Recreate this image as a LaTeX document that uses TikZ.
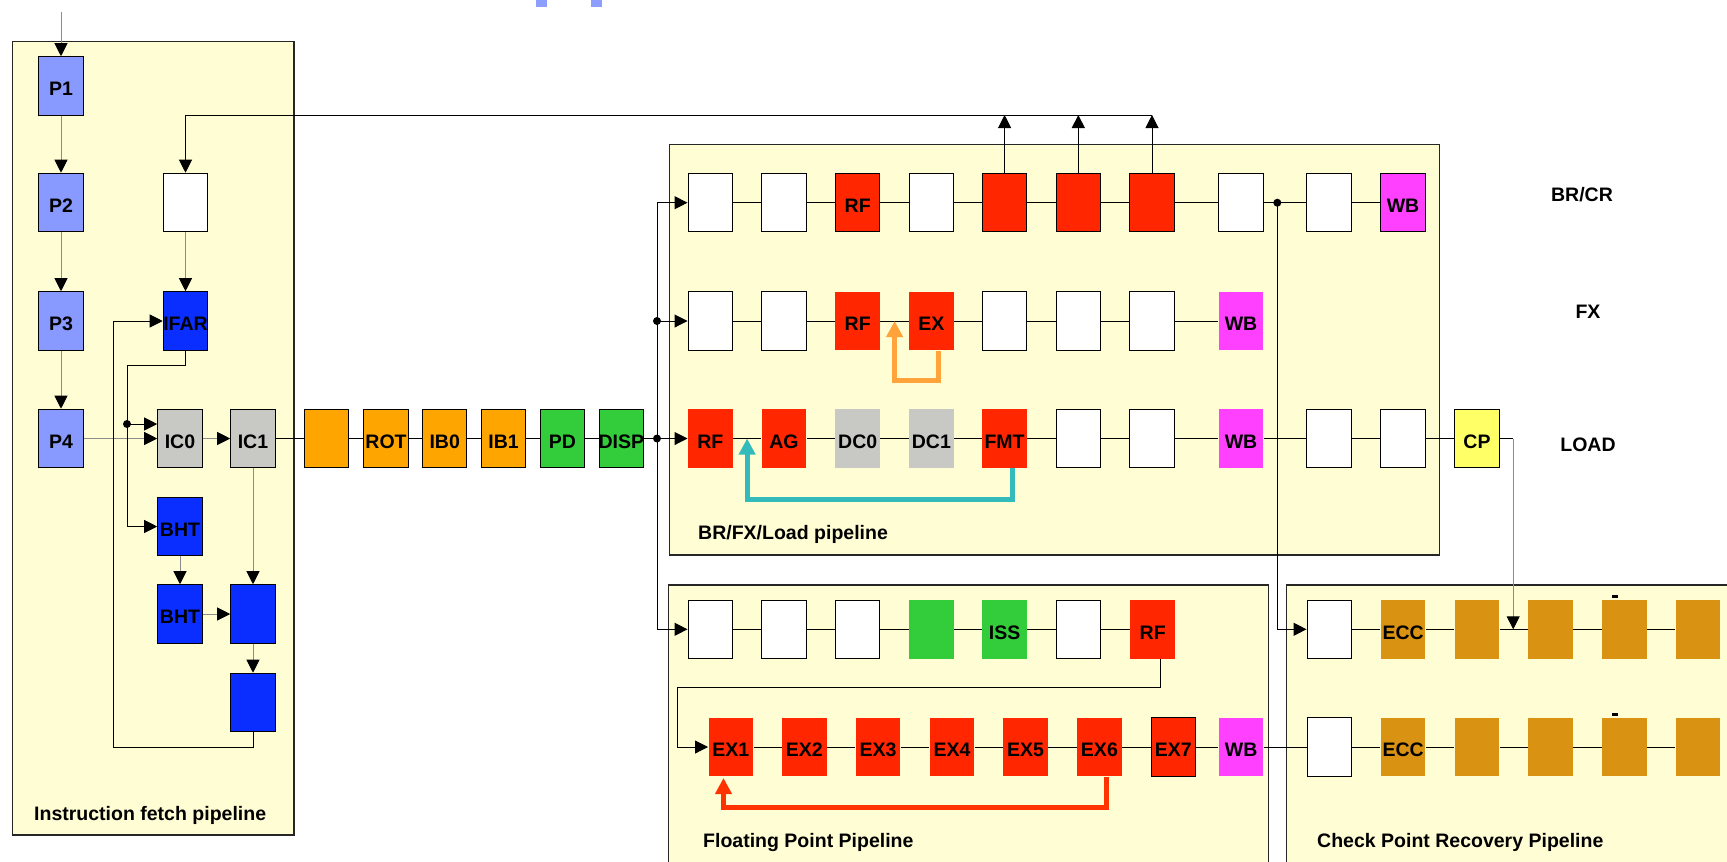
\documentclass[tikz,border=0pt]{standalone}
\usepackage{fontspec}
\setmainfont{Liberation Sans}
\usetikzlibrary{arrows.meta, calc}
\definecolor{panelCream}{HTML}{FFFDD3}
\definecolor{fetchBlue}{HTML}{8899FF}
\definecolor{deepBlue}{HTML}{0A2EFF}
\definecolor{cacheGrey}{HTML}{C8C9C5}
\definecolor{bufOrange}{HTML}{FFA500}
\definecolor{issGreen}{HTML}{33CC3A}
\definecolor{exRed}{HTML}{FF2600}
\definecolor{wbPink}{HTML}{FF40FF}
\definecolor{cpYellow}{HTML}{FFFF66}
\definecolor{eccGold}{HTML}{D99212}
\definecolor{fwdOrange}{HTML}{FFA33A}
\definecolor{fwdTeal}{HTML}{33BBBB}
\definecolor{fwdRed}{HTML}{FF3300}
\definecolor{titleBlue}{HTML}{8C9EFF}
\tikzset{
  stagebox/.style  = {line width=0.6pt, minimum width=8.9mm, minimum height=11.7mm,
                      inner sep=0pt},
  panel/.style     = {draw=black!85, line width=0.7pt, fill=panelCream},
  wire/.style      = {black, line width=0.55pt},
  arrowwire/.style = {wire, -{Triangle[length=2.6mm, width=2.6mm, color=black]}},
  softwire/.style  = {arrowwire, black!45},
  junction/.style  = {circle, fill=black, inner sep=0pt, minimum size=1.6mm},
  bypass/.style    = {line width=1mm, -{Triangle[length=3.2mm, width=3.2mm]}},
  caption/.style   = {anchor=base west},
  rowname/.style   = {anchor=center},
  every label/.style = {yshift=-0.6mm},
}

\begin{document}
\begin{tikzpicture}[x=0.2mm, y=-0.2mm, font=\fontsize{11.1}{13}\selectfont\bfseries]
  \useasboundingbox (0,0) rectangle (1727,861);
  \clip (0,0) rectangle (1727,861);

  % pipeline panels
  \draw[panel] (12.3,41.3) rectangle (294,835);
  \draw[panel] (669.6,144.3) rectangle (1439.6,555);
  \draw[panel] (668.4,585) rectangle (1268.4,900);
  \draw[panel] (1286.7,585) rectangle (1780,900);

  % cut-off title marks
  \fill[titleBlue] (536,0) rectangle (547,7);
  \fill[titleBlue] (591,0) rectangle (602,7);

  % instruction fetch stages
  \node[stagebox, draw=black, fill=fetchBlue, label=center:P1] (p1) at (61,86) {};
  \node[stagebox, draw=black, fill=fetchBlue, label=center:P2] (p2) at (61,202.5) {};
  \node[stagebox, draw=black, fill=fetchBlue, label=center:P3] (p3) at (61,321) {};
  \node[stagebox, draw=black, fill=fetchBlue, label=center:P4] (p4) at (61,438.5) {};
  \node[stagebox, draw=black, fill=white] (ifnext) at (185.5,202.5) {};
  \node[stagebox, draw=black, fill=deepBlue, label=center:IFAR] (ifar) at (185.5,321) {};
  \node[stagebox, draw=black, fill=cacheGrey, label=center:IC0] (ic0) at (180,438.5) {};
  \node[stagebox, draw=black, fill=cacheGrey, label=center:IC1] (ic1) at (253,438.5) {};
  \node[stagebox, draw=black, fill=deepBlue, label=center:BHT] (bhtA) at (180,526.5) {};
  \node[stagebox, draw=black, fill=deepBlue, label=center:BHT] (bhtB) at (180,614) {};
  \node[stagebox, draw=black, fill=deepBlue] (predA) at (253,614) {};
  \node[stagebox, draw=black, fill=deepBlue] (predB) at (253,702.5) {};

  \coordinate (inp) at (61,12);
  \coordinate (ifarOut) at (127,365.7);
  \coordinate (tapA) at (127,424);
  \coordinate (loopIF) at (113,747);
  \draw[softwire] (inp) -- (p1);
  \draw[softwire] (p1) -- (p2);
  \draw[softwire] (p2) -- (p3);
  \draw[softwire] (p3) -- (p4);
  \draw[softwire] (ifnext) -- (ifar);
  \draw[softwire] (p4) -- (ic0);
  \draw[softwire] (ic0) -- (ic1);
  \draw[wire] (ifar.south) |- (ifarOut) -- (tapA);
  \node[junction] (dotA) at (tapA) {};
  \draw[arrowwire] (tapA) -- (tapA -| ic0.west);
  \draw[arrowwire] (tapA) |- (bhtA.west);
  \draw[softwire] (bhtA) -- (bhtB);
  \draw[softwire] (bhtB) -- (predA);
  \draw[softwire] (ic1) -- (predA);
  \draw[softwire] (predA) -- (predB);
  \draw[arrowwire] (predB.south) |- (loopIF) |- (ifar.west);

  % buffer and decode stages
  \foreach \n/\x/\c/\t in {1/326.3/bufOrange/, 2/386/bufOrange/ROT, 3/444.7/bufOrange/IB0,
                           4/503.5/bufOrange/IB1, 5/562.5/issGreen/PD, 6/621.3/issGreen/DISP}
    \node[stagebox, draw=black, fill=\c, label=center:\t] (dec\n) at (\x,438.5) {};
  \draw[wire] (ic1) -- (dec1);
  \foreach \a/\b in {1/2, 2/3, 3/4, 4/5, 5/6}
    \draw[wire] (dec\a) -- (dec\b);

  % BR/CR row
  \foreach \n/\x/\d/\c/\t in {1/710.3/black/white/, 2/784/black/white/, 3/857.7/black/exRed/RF,
                              4/931.4/black/white/, 5/1004.6/black/exRed/, 6/1078.3/black/exRed/,
                              7/1152/black/exRed/, 8/1241/black/white/, 9/1329/black/white/,
                              10/1403/black/wbPink/WB}
    \node[stagebox, draw=\d, fill=\c, label=center:\t] (br\n) at (\x,202.7) {};
  \foreach \a/\b in {1/2, 2/3, 3/4, 4/5, 5/6, 6/7, 7/8, 8/9, 9/10}
    \draw[wire] (br\a) -- (br\b);

  % FX row
  \foreach \n/\x/\d/\c/\t in {1/710.3/black/white/, 2/784/black/white/, 3/857.7/none/exRed/RF,
                              4/931.4/none/exRed/EX, 5/1004.6/black/white/, 6/1078.3/black/white/,
                              7/1152/black/white/, 8/1241/none/wbPink/WB}
    \node[stagebox, draw=\d, fill=\c, label=center:\t] (fx\n) at (\x,321) {};
  \foreach \a/\b in {1/2, 2/3, 3/4, 4/5, 5/6, 6/7, 7/8}
    \draw[wire] (fx\a) -- (fx\b);

  % LOAD row
  \foreach \n/\x/\d/\c/\t in {1/710.3/none/exRed/RF, 2/784/none/exRed/AG, 3/857.7/none/cacheGrey/DC0,
                              4/931.4/none/cacheGrey/DC1, 5/1004.6/none/exRed/FMT,
                              6/1078.3/black/white/, 7/1152/black/white/, 8/1241/none/wbPink/WB,
                              9/1329/black/white/, 10/1403/black/white/, 11/1477/black/cpYellow/CP}
    \node[stagebox, draw=\d, fill=\c, label=center:\t] (ld\n) at (\x,438.5) {};
  \foreach \a/\b in {1/2, 2/3, 3/4, 4/5, 5/6, 6/7, 7/8, 8/9, 9/10, 10/11}
    \draw[wire] (ld\a) -- (ld\b);

  % floating point rows
  \foreach \n/\x/\d/\c/\t in {1/710.3/black/white/, 2/784/black/white/, 3/857.7/black/white/,
                              4/931.4/none/issGreen/, 5/1004.6/none/issGreen/ISS,
                              6/1078.3/black/white/, 7/1152.7/none/exRed/RF}
    \node[stagebox, draw=\d, fill=\c, label=center:\t] (fpa\n) at (\x,629.3) {};
  \foreach \a/\b in {1/2, 2/3, 3/4, 4/5, 5/6, 6/7}
    \draw[wire] (fpa\a) -- (fpa\b);
  \foreach \n/\x/\d/\c/\t in {1/730.8/none/exRed/EX1, 2/804.3/none/exRed/EX2, 3/878/none/exRed/EX3,
                              4/952/none/exRed/EX4, 5/1025.5/none/exRed/EX5, 6/1099.4/none/exRed/EX6,
                              7/1173.3/black/exRed/EX7, 8/1241.2/none/wbPink/WB}
    \node[stagebox, draw=\d, fill=\c, label=center:\t] (fpb\n) at (\x,747) {};
  \foreach \a/\b in {1/2, 2/3, 3/4, 4/5, 5/6, 6/7, 7/8}
    \draw[wire] (fpb\a) -- (fpb\b);

  % check point recovery rows
  \foreach \r/\y in {a/629.3, b/747} {
    \foreach \n/\x/\d/\c/\t in {1/1329.3/black/white/, 2/1403.2/none/eccGold/ECC, 3/1477/none/eccGold/,
                                4/1550.5/none/eccGold/, 5/1624.5/none/eccGold/, 6/1698.2/none/eccGold/}
      \node[stagebox, draw=\d, fill=\c, label=center:\t] (cp\r\n) at (\x,\y) {};
    \foreach \a/\b in {1/2, 2/3, 3/4, 4/5, 5/6}
      \draw[wire] (cp\r\a) -- (cp\r\b);
  }
  \fill (1612,595) rectangle (1618,598);
  \fill (1612,713) rectangle (1618,716);

  % dispatch bus
  \coordinate (busTop) at (657,202.7);
  \coordinate (busBot) at (657,629.3);
  \coordinate (dispTap) at (657,438.5);
  \draw[wire] (busTop) -- (busBot);
  \draw[wire] (dec6) -- (dispTap);
  \draw[arrowwire] (busTop) -- (br1);
  \draw[arrowwire] (busTop |- fx1) -- (fx1);
  \draw[arrowwire] (dispTap) -- (ld1);
  \draw[arrowwire] (busBot) -- (fpa1);
  \node[junction] (dotFX) at (busTop |- fx1) {};
  \node[junction] (dotLD) at (dispTap) {};

  % branch feedback to fetch
  \coordinate (fbCorner) at (185.5,115);
  \foreach \n in {5,6,7}
    \draw[arrowwire] (br\n.north) -- (br\n.north |- fbCorner);
  \draw[arrowwire] (br7.north |- fbCorner) -- (fbCorner) -- (ifnext.north);

  % links into check point recovery
  \coordinate (ckTap) at (1277.3,202.7);
  \node[junction] (dotCK) at (ckTap) {};
  \draw[arrowwire] (ckTap) |- (cpa1.west);
  \coordinate (cpTurn) at (1513.2,438.5);
  \draw[wire] (ld11) -- (cpTurn);
  \draw[softwire] (cpTurn) -- (1513.2,629.3);
  \draw[wire] (fpb8) -- (cpb1);

  % FP issue to execute
  \coordinate (fpDrop) at (677.8,687);
  \draw[arrowwire] ([xshift=1.5mm]fpa7.south) |- (fpDrop) |- (fpb1.west);

  % bypass loops
  \draw[bypass, fwdOrange] ([xshift=1.4mm]fx4.south) -- ++(0,30) -| (894.6,321);
  \draw[bypass, fwdTeal] ([xshift=1.6mm]ld5.south) -- ++(0,31) -| (747.1,438.5);
  \draw[bypass, fwdRed] ([xshift=1.4mm]fpb6.south) -- ++(0,30.7) -| (723.5,778);

  % names
  \node[rowname] (nameBR) at (1582,195) {BR/CR};
  \node[rowname] (nameFX) at (1588,312) {FX};
  \node[rowname] (nameLD) at (1588,445) {LOAD};
  \node[caption] (capIF) at (28,820.7) {Instruction fetch pipeline};
  \node[caption] (capLD) at (692,539) {BR/FX/Load pipeline};
  \node[caption] (capFP) at (697,847) {Floating Point Pipeline};
  \node[caption] (capCP) at (1311,847) {Check Point Recovery Pipeline};
\end{tikzpicture}
\end{document}
